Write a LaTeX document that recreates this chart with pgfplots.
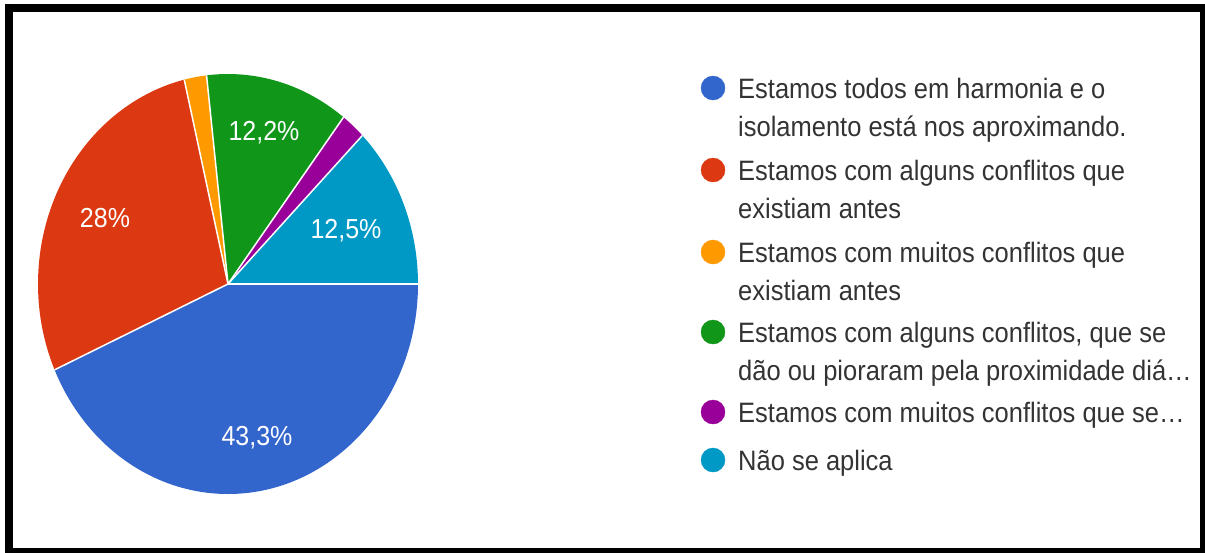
\documentclass[border=0pt]{standalone}
\usepackage{pgfplots}
\pgfplotsset{compat=1.18}
\usepackage{fontspec}
\setmainfont{Liberation Sans}
\definecolor{cBlue}{HTML}{3366CC}
\definecolor{cRed}{HTML}{DC3912}
\definecolor{cOrange}{HTML}{FF9900}
\definecolor{cGreen}{HTML}{109618}
\definecolor{cPurple}{HTML}{990099}
\definecolor{cCyan}{HTML}{0099C6}
\definecolor{txt}{HTML}{333333}
\newcommand{\lt}[1]{\scalebox{1}[1.1]{#1}}
\begin{document}
\begin{tikzpicture}
\useasboundingbox (0,0) rectangle (1205pt,552pt);
\clip (0,0) rectangle (1205pt,552pt);
\begin{axis}[
  scale only axis, width=1205pt, height=552pt,
  xmin=0, xmax=1205, ymin=0, ymax=552, y dir=reverse,
  axis lines=none, clip=false,
]
% pie slices: value (percent) / colour, clockwise from 3 o'clock
\pgfplotsextra{
  \gdef\cum{0}
  \foreach \v/\c in {43.3/cBlue, 28/cRed, 1.9/cOrange, 12.2/cGreen, 2.1/cPurple, 12.5/cCyan}{
    \pgfmathsetmacro\a{-\cum*3.6}
    \pgfmathsetmacro\b{-(\cum+\v)*3.6}
    \fill[\c] (axis cs:228,284) -- ++(\a:190pt and 210pt)
      arc[start angle=\a, end angle=\b, x radius=190pt, y radius=210pt] -- cycle;
    \pgfmathsetmacro\newcum{\cum+\v}
    \xdef\cum{\newcum}
  }
  \gdef\cum{0}
  \foreach \v in {43.3, 28, 1.9, 12.2, 2.1, 12.5}{
    \pgfmathsetmacro\a{-\cum*3.6}
    \draw[white, line width=1.5pt] (axis cs:228,284) -- ++(\a:190pt and 210pt);
    \pgfmathsetmacro\newcum{\cum+\v}
    \xdef\cum{\newcum}
  }
}
% legend markers
\addplot[only marks, mark=*, mark size=12pt, cBlue] coordinates {(713,88)};
\addplot[only marks, mark=*, mark size=12pt, cRed] coordinates {(713,170)};
\addplot[only marks, mark=*, mark size=12pt, cOrange] coordinates {(713,252)};
\addplot[only marks, mark=*, mark size=12pt, cGreen] coordinates {(713,332)};
\addplot[only marks, mark=*, mark size=12pt, cPurple] coordinates {(713,412)};
\addplot[only marks, mark=*, mark size=12pt, cCyan] coordinates {(713,460)};
% slice labels
\begin{scope}[every node/.style={text=white, font=\fontsize{25}{30}\selectfont}]
\node at (axis cs:257,438) {\lt{43,3\%}};
\node at (axis cs:105,218) {\lt{28\%}};
\node at (axis cs:264,133) {\lt{12,2\%}};
\node at (axis cs:346,231) {\lt{12,5\%}};
\end{scope}
% legend text
\begin{scope}[every node/.style={text=txt, anchor=base west, inner sep=0pt, font=\fontsize{25.5}{30}\selectfont}]
\node at (axis cs:738,98) {\lt{Estamos todos em harmonia e o}};
\node at (axis cs:738,136) {\lt{isolamento está nos aproximando.}};
\node at (axis cs:738,180) {\lt{Estamos com alguns conflitos que}};
\node at (axis cs:738,218) {\lt{existiam antes}};
\node at (axis cs:738,262) {\lt{Estamos com muitos conflitos que}};
\node at (axis cs:738,300) {\lt{existiam antes}};
\node at (axis cs:738,342) {\lt{Estamos com alguns conflitos, que se}};
\node at (axis cs:738,380) {\lt{dão ou pioraram pela proximidade diá…}};
\node at (axis cs:738,422) {\lt{Estamos com muitos conflitos que se…}};
\node at (axis cs:738,470) {\lt{Não se aplica}};
\end{scope}
% frame
\draw[black, line width=8pt] (axis cs:9,8) rectangle (axis cs:1204,552);
\end{axis}
\end{tikzpicture}
\end{document}
